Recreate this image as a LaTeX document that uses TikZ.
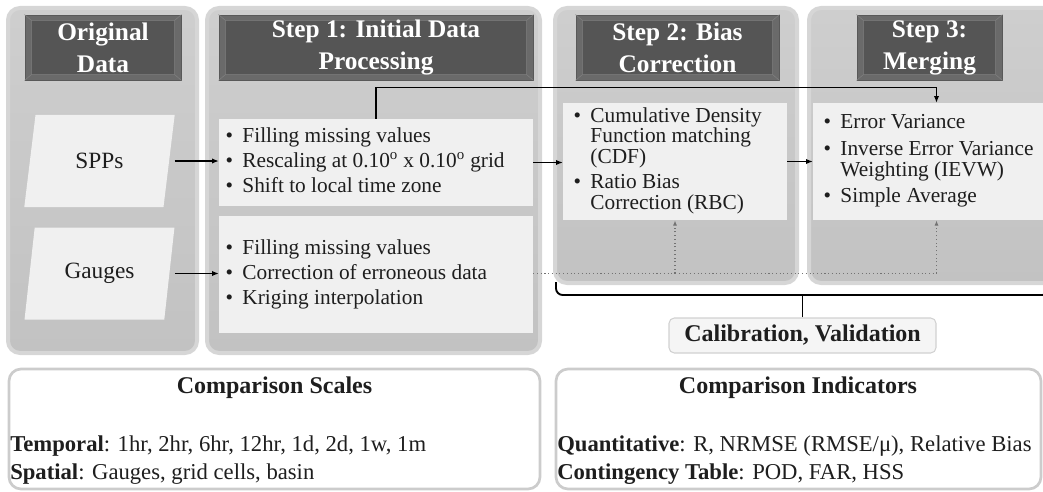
\documentclass[tikz,border=0pt]{standalone}
\usepackage{fontspec}
\setmainfont{Liberation Serif}
\usetikzlibrary{positioning,fit,shapes.geometric,arrows.meta}
\definecolor{panelgray}{HTML}{C2C2C2}
\definecolor{panelrim}{HTML}{D6D6D6}
\definecolor{hdrgray}{HTML}{555555}
\definecolor{hdredge}{HTML}{6A6A6A}
\definecolor{boxfill}{HTML}{F0F0F0}
\definecolor{inkgray}{HTML}{1E1E1E}

\begin{document}
\begin{tikzpicture}
[x=0.75pt, y=-0.75pt,
every node/.style={inner sep=0pt, text=inkgray},
panel/.style={rounded corners=9pt, top color=panelgray!80!white, bottom color=panelgray, draw=panelrim, line width=3pt},
hdr/.style={fill=hdredge, draw=black!65, line width=0.6pt},
bevel/.style={fill=hdrgray, draw=black!55, line width=0.4pt},
hdrtxt/.style={text=white, font=\fontsize{19}{24}\selectfont\bfseries, align=center},
para/.style={trapezium, trapezium left angle=75, trapezium right angle=105,
  trapezium stretches=true, minimum width=113pt, minimum height=69pt,
  fill=boxfill, font=\fontsize{17.5}{21}\selectfont},
lbox/.style={fill=boxfill},
lst/.style={font=\fontsize{16}{18.75}\selectfont, anchor=west},
arr/.style={-{Latex[length=5pt,width=4pt]}, line width=0.9pt},
dots/.style={dotted, black!55, line width=0.8pt},
brk/.style={line width=1.4pt, rounded corners=5pt},
outbox/.style={rounded corners=9pt, fill=white, draw=black!20, line width=2pt},
calbox/.style={rounded corners=4pt, fill=black!4, draw=black!18, line width=0.8pt},
ttl/.style={font=\fontsize{18}{22}\selectfont\bfseries},
row/.style={font=\fontsize{17}{21}\selectfont, anchor=west}]

\useasboundingbox (0,0) rectangle (1043,492);

% panels
\node[panel, fit={(8,8) (197,353)}] (p1) {};
\node[panel, fit={(207,8) (540,353)}] (p2) {};
\node[panel, fit={(555,8) (797,283)}] (p3) {};
\node[panel, fit={(809,8) (1060,283)}] (p4) {};

% headers
\node[hdr, fit={(25,15) (181,80)}] (h1) {};
\node[hdr, fit={(219,15) (533,80)}] (h2) {};
\node[hdr, fit={(576,15) (779,80)}] (h3) {};
\node[hdr, fit={(857,15) (1002,80)}] (h4) {};
\foreach \h in {h1,h2,h3,h4}{
  \draw[bevel] ([shift={(7,6)}]\h.north west) rectangle ([shift={(-7,-6)}]\h.south east);
  \draw[black!50, line width=0.4pt] (\h.north west) -- ([shift={(7,6)}]\h.north west)
    (\h.north east) -- ([shift={(-7,6)}]\h.north east)
    (\h.south west) -- ([shift={(7,-6)}]\h.south west)
    (\h.south east) -- ([shift={(-7,-6)}]\h.south east);
}
\node[hdrtxt] (h1t) at (h1) {Original\\Data};
\node[hdrtxt] (h2t) at (h2) {Step 1: Initial Data\\Processing};
\node[hdrtxt] (h3t) at (h3) {Step 2: Bias\\Correction};
\node[hdrtxt] (h4t) at (h4) {Step 3:\\Merging};

% original data
\node[para] (spp) at (99.5,161) {SPPs};
\node[para] (gau) at (99.5,273.5) {Gauges};

% content boxes
\node[lbox, fit={(219,119) (533,206)}] (b1) {};
\node[lbox, fit={(219,216) (533,333)}] (b2) {};
\node[lbox, fit={(563,103) (787,220)}] (b3) {};
\node[lbox, fit={(813,103) (1060,220)}] (b4) {};

\node[lst, right=5pt of b1.west] (l1) {\begin{tabular}{@{}l@{\hspace{7pt}}l@{}}
\textbullet & Filling missing values\\
\textbullet & Rescaling at 0.10\textsuperscript{o} x 0.10\textsuperscript{o} grid\\
\textbullet & Shift to local time zone
\end{tabular}};
\node[lst, right=5pt of b2.west] (l2) {\begin{tabular}{@{}l@{\hspace{7pt}}l@{}}
\textbullet & Filling missing values\\
\textbullet & Correction of erroneous data\\
\textbullet & Kriging interpolation
\end{tabular}};
\node[lst, font=\fontsize{16}{15}\selectfont, right=8pt of b3.west] (l3) {\begin{tabular}{@{}l@{\hspace{7pt}}l@{}}
\textbullet & Cumulative Density\\
 & Function matching\\
 & (CDF)\\[3.75pt]
\textbullet & Ratio Bias\\
 & Correction (RBC)
\end{tabular}};
\node[lst, font=\fontsize{16}{15.75}\selectfont, right=8pt of b4.west] (l4) {\begin{tabular}{@{}l@{\hspace{7pt}}l@{}}
\textbullet & Error Variance\\[4.25pt]
\textbullet & Inverse Error Variance\\
 & Weighting (IEVW)\\[4.25pt]
\textbullet & Simple Average
\end{tabular}};

% flow
\draw[arr, shorten <=4pt] (spp.east) -- (spp.east -| b1.west);
\draw[arr, shorten <=4pt] (gau.east) -- (gau.east -| b2.west);
\draw[arr] (b1.east) -- (b1.east -| b3.west);
\draw[arr] (b3.east) -- (b3.east -| b4.west);
\draw[arr] (b1.north) -- ++(0,-31) -| (b4.north);

% gauge data to steps 2 and 3
\coordinate (dv) at (gau.east -| b2.east);
\draw[dots] (dv) -- (dv -| b4.south);
\draw[dots, -{Latex[length=4pt,width=3pt]}] (dv -| b3.south) -- (b3.south);
\draw[dots, -{Latex[length=4pt,width=3pt]}] (dv -| b4.south) -- (b4.south);

% calibration bracket
\node[calbox, fit={(669,318) (936,353)}] (cal) {};
\node[ttl] (calt) at (cal) {Calibration, Validation};
\coordinate (bl) at (556,282);
\coordinate (br) at (1049,282);
\draw[brk] (bl) -- ++(0,13) -| (br);
\draw[brk] (cal.north) -- (cal.north |- 0,295);

% comparison boxes
\node[outbox, fit={(9,369) (540,489)}] (cs) {};
\node[outbox, fit={(556,369) (1041,489)}] (ci) {};
\node[ttl] (cst) at (274.5,388) {Comparison Scales};
\node[ttl] (cit) at (798,388) {Comparison Indicators};
\node[row] (tmp) at (10,446) {\textbf{Temporal}: 1hr, 2hr, 6hr, 12hr, 1d, 2d, 1w, 1m};
\node[row] (spa) at (10,474) {\textbf{Spatial}: Gauges, grid cells, basin};
\node[row] (qnt) at (557,446) {\textbf{Quantitative}: R, NRMSE (RMSE/μ), Relative Bias};
\node[row] (cnt) at (557,474) {\textbf{Contingency Table}: POD, FAR, HSS};
\end{tikzpicture}
\end{document}
